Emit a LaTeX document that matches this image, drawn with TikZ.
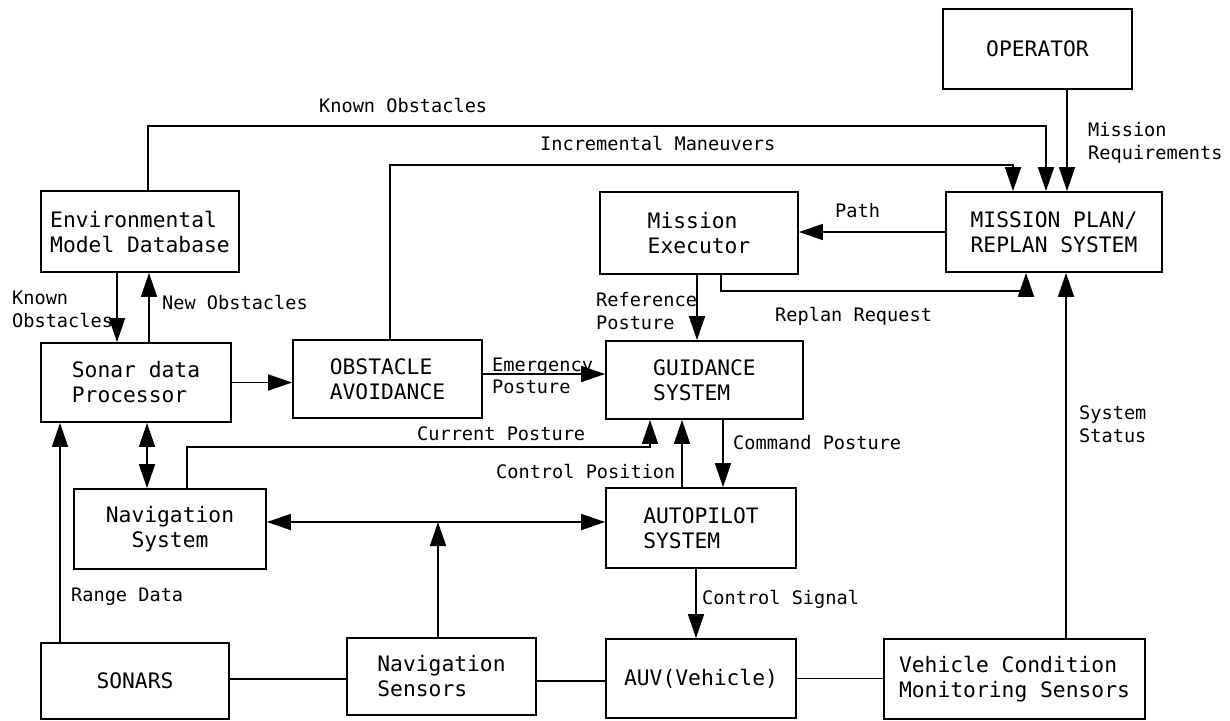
\documentclass[tikz,border=0pt]{standalone}
\usepackage{fontspec}
\newfontfamily\plotfont{DejaVu Sans Mono}
\usetikzlibrary{arrows.meta,calc}
\begin{document}
\begin{tikzpicture}[x=1pt,y=-1pt,
  box/.style={draw,line width=1.8pt,rectangle,inner sep=0pt,
    font=\plotfont\fontsize{21.3}{25}\selectfont,align=left},
  lbl/.style={inner sep=0pt,anchor=west,
    font=\plotfont\fontsize{18.6}{23}\selectfont,align=left},
  conn/.style={line width=1.7pt},
  arr/.style={conn,-{Triangle[length=24pt,width=16pt]}},
  arr2/.style={conn,{Triangle[length=24pt,width=16pt]}-{Triangle[length=24pt,width=16pt]}}]
\useasboundingbox (0,0) rectangle (1230,720);
% boxes
\node[box,minimum width=198pt,minimum height=81pt] (env) at (140,231.5) {Environmental\\Model Database};
\node[box,minimum width=190pt,minimum height=79pt] (sonarp) at (136,382.5) {Sonar data\\Processor};
\node[box,minimum width=189pt,minimum height=78pt] (obst) at (387.5,379) {OBSTACLE\\AVOIDANCE};
\node[box,minimum width=198pt,minimum height=82pt] (exec) at (699,233) {Mission\\Executor};
\node[box,minimum width=216pt,minimum height=80pt] (plan) at (1054,232) {MISSION PLAN/\\REPLAN SYSTEM};
\node[box,minimum width=189pt,minimum height=80pt] (oper) at (1037.5,49) {OPERATOR};
\node[box,minimum width=197pt,minimum height=78pt] (guid) at (704.5,380) {GUIDANCE\\SYSTEM};
\node[box,minimum width=192pt,minimum height=80pt,align=center] (nav) at (170,529) {Navigation\\System};
\node[box,minimum width=190pt,minimum height=80pt] (auto) at (701,528) {AUTOPILOT\\SYSTEM};
\node[box,minimum width=188pt,minimum height=76pt] (sonars) at (135,681) {SONARS};
\node[box,minimum width=189pt,minimum height=77pt] (navs) at (441.5,676.5) {Navigation\\Sensors};
\node[box,minimum width=190pt,minimum height=79pt] (auv) at (701,678.5) {AUV(Vehicle)};
\node[box,minimum width=261pt,minimum height=80pt] (vcms) at (1014.5,679) {Vehicle Condition\\Monitoring Sensors};
% connectors
\draw[arr] ([xshift=8pt]env.north) -- ++(0,-64) -| ([xshift=-8pt]plan.north);
\draw[arr] ([xshift=2.5pt]obst.north) -- ++(0,-174) -| ([xshift=-41pt]plan.north);
\coordinate (op) at ([xshift=29.5pt]oper.south);
\draw[arr] (op) -- (op |- plan.north);
\draw[arr] (plan.west) -- (plan.west -| exec.east);
\draw[arr] ([xshift=22pt]exec.south) -- ++(0,16) -| ([xshift=-28pt]plan.south);
\coordinate (vs) at ([xshift=51.5pt]vcms.north);
\draw[arr] (vs) -- (vs |- plan.south);
\coordinate (es) at ([xshift=-2pt]exec.south);
\draw[arr] (es) -- (es |- guid.north);
\coordinate (ed) at ([xshift=-23pt]env.south);
\draw[arr] (ed) -- (ed |- sonarp.north);
\coordinate (su) at ([xshift=13pt]sonarp.north);
\draw[arr] (su) -- (su |- env.south);
\draw[arr] (sonarp.east) -- (sonarp.east -| obst.west);
\coordinate (oe) at ([yshift=5pt]obst.east);
\draw[arr] (oe) -- (oe -| guid.west);
\coordinate (sn) at ([xshift=11pt]sonarp.south);
\draw[arr2] (sn) -- (sn |- nav.north);
\draw[arr] ([xshift=17pt]nav.north) -- ++(0,-41) -| ([xshift=-54.5pt]guid.south);
\coordinate (cp) at ([xshift=-19pt]auto.north);
\draw[arr] (cp) -- (cp |- guid.south);
\coordinate (cm) at ([xshift=18.5pt]guid.south);
\draw[arr] (cm) -- (cm |- auto.north);
\coordinate (nl) at ([yshift=7pt]nav.east);
\draw[arr2] (nl) -- (nl -| auto.west);
\coordinate (ns) at ([xshift=-3.5pt]navs.north);
\draw[arr] (ns) -- (ns |- nl);
\coordinate (rd) at ([xshift=-75pt]sonars.north);
\draw[arr] (rd) -- (rd |- sonarp.south);
\coordinate (cs) at ([xshift=-5pt]auto.south);
\draw[arr] (cs) -- (cs |- auv.north);
\coordinate (se) at ([yshift=2pt]sonars.east);
\draw[conn] (se) -- (se -| navs.west);
\coordinate (ne) at ([yshift=-4.5pt]navs.east);
\draw[conn] (ne) -- (ne -| auv.west);
\draw[conn] (auv.east) -- (auv.east -| vcms.west);
% labels
\node[lbl] (l1) at (319,106) {Known Obstacles};
\node[lbl] (l2) at (540,144) {Incremental Maneuvers};
\node[lbl] (l3) at (12,309.5) {Known\\Obstacles};
\node[lbl] (l4) at (162,303) {New Obstacles};
\node[lbl] (l5) at (1088,142.5) {Mission\\Requirements};
\node[lbl] (l6) at (835,211) {Path};
\node[lbl] (l7) at (596,311) {Reference\\Posture};
\node[lbl] (l8) at (775,316) {Replan Request};
\node[lbl,font=\plotfont\fontsize{18.6}{22}\selectfont] (l9) at (492,375.5) {Emergency\\Posture};
\node[lbl] (l10) at (417,434) {Current Posture};
\node[lbl] (l11) at (496,472) {Control Position};
\node[lbl] (l12) at (733,443) {Command Posture};
\node[lbl] (l13) at (1079,424.5) {System\\Status};
\node[lbl] (l14) at (71,597) {Range Data};
\node[lbl] (l15) at (702,599) {Control Signal};
\end{tikzpicture}
\end{document}
